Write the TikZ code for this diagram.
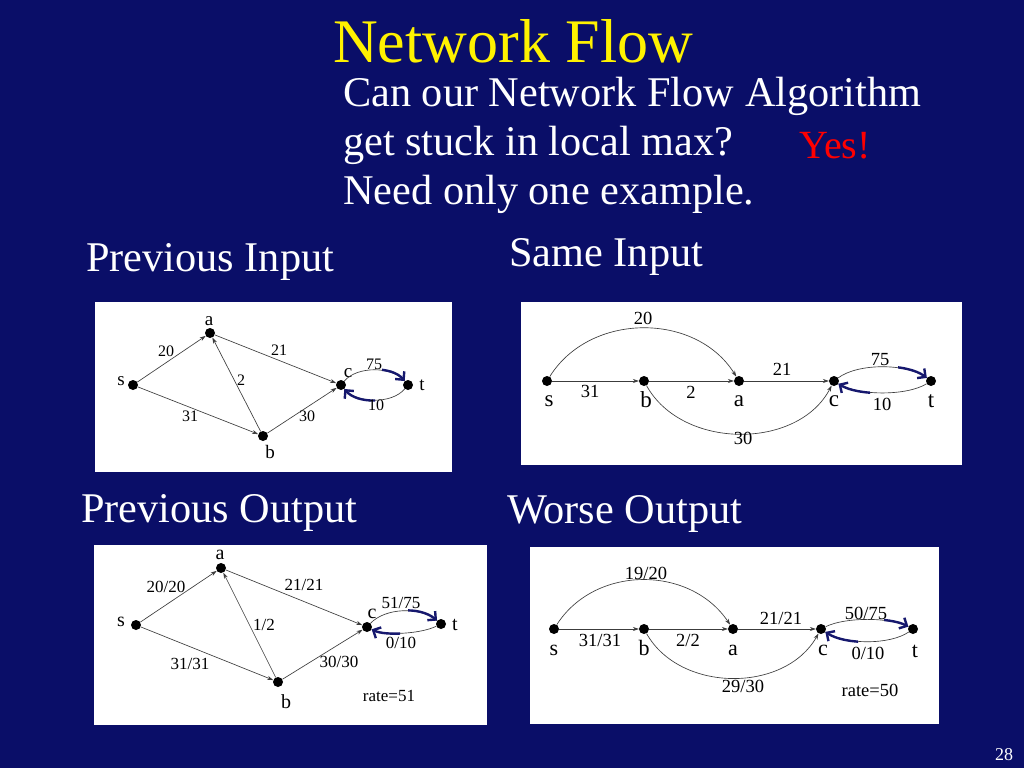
\documentclass[tikz,border=0pt]{standalone}
\usepackage{fontspec}
\setmainfont{Liberation Serif}
\usetikzlibrary{arrows.meta}
\definecolor{slidebg}{RGB}{10,14,104}
\definecolor{flowblue}{RGB}{22,24,110}
\definecolor{edgegray}{RGB}{60,60,60}
\newcommand{\fsz}[1]{\fontsize{#1}{#1}\selectfont}
\begin{document}
\begin{tikzpicture}[x=1pt,y=-1pt,
  panel/.style={fill=white,draw=none},
  dot/.style={circle,fill=black,inner sep=0pt,minimum size=10pt},
  edge/.style={draw=edgegray,line width=0.65pt,-{Stealth[length=6pt,width=4pt]}},
  plain/.style={draw=edgegray,line width=0.65pt},
  flowarr/.style={draw=flowblue,line width=2.4pt,-{Straight Barb[length=6pt,width=12pt,line width=2.4pt]}},
  head/.style={anchor=base west,inner sep=0pt,text=white,font=\fsz{42.3}},
  nlA/.style={inner sep=0pt,font=\fsz{19}},
  elA/.style={inner sep=0pt,font=\fsz{16}},
  nlB/.style={inner sep=0pt,font=\fsz{23}},
  elB/.style={inner sep=0pt,font=\fsz{18.5}}]
\useasboundingbox (0,0) rectangle (1024,768);
\fill[slidebg] (0,0) rectangle (1024,768);

% header texts
\node[anchor=base west,inner sep=0pt,text=yellow,font=\fsz{62}] (title) at (333,63) {Network Flow};
\node[head] (q1) at (343,106) {Can our Network Flow Algorithm};
\node[head] (q2) at (343,155) {get stuck in local max?};
\node[head] (q3) at (343,204) {Need only one example.};
\node[anchor=base west,inner sep=0pt,text=red,font=\fsz{40}] (yes) at (799,158) {Yes!};
\node[head] (h1) at (86,271) {Previous Input};
\node[head] (h2) at (509,266) {Same Input};
\node[head] (h3) at (81,522) {Previous Output};
\node[head] (h4) at (507,523) {Worse Output};
\node[anchor=base west,inner sep=0pt,text=white,font=\fsz{18}] (pg) at (995,760) {28};

% ---------- Panel 1: Previous Input ----------
\fill[panel] (95,302) rectangle (452,472);
\node[dot] (s1) at (133,385) {};
\node[dot] (a1) at (210,333) {};
\node[dot] (b1) at (263,436) {};
\node[dot] (c1) at (341,385) {};
\node[dot] (t1) at (408,385) {};
\node[nlA] (s1l) at (121,381) {s};
\node[nlA] (a1l) at (209,321) {a};
\node[nlA] (b1l) at (270,452) {b};
\node[nlA] (c1l) at (348,373) {c};
\node[nlA] (t1l) at (422,385) {t};
\draw[edge] (s1) -- (a1);
\draw[edge] (a1) -- (c1);
\draw[edge] (b1) -- (a1);
\draw[edge] (s1) -- (b1);
\draw[edge] (b1) -- (c1);
\draw[plain] (c1) .. controls (357,366) and (392,366) .. (t1);
\draw[plain] (t1) .. controls (392,404) and (357,404) .. (c1);
\begin{scope}
  \clip (382,350) rectangle (420,386);
  \draw[flowarr] (c1) .. controls (357,366) and (392,366) .. (t1);
\end{scope}
\begin{scope}
  \clip (330,384) rectangle (375,420);
  \draw[flowarr] (t1) .. controls (392,404) and (357,404) .. (c1);
\end{scope}
\node[elA] (e1a) at (166,351) {20};
\node[elA] (e1b) at (279,350) {21};
\node[elA] (e1c) at (241,380) {2};
\node[elA] (e1d) at (190,416) {31};
\node[elA] (e1e) at (307,416) {30};
\node[elA] (e1f) at (374,364) {75};
\node[elA] (e1g) at (376,405) {10};

% ---------- Panel 2: Same Input ----------
\fill[panel] (521,302) rectangle (962,465);
\node[dot] (s2) at (547,381) {};
\node[dot] (b2) at (644,381) {};
\node[dot] (a2) at (739,381) {};
\node[dot] (c2) at (834,381) {};
\node[dot] (t2) at (931,381) {};
\node[nlB] (s2l) at (549,401) {s};
\node[nlB] (b2l) at (646,400) {b};
\node[nlB] (a2l) at (739,401) {a};
\node[nlB] (c2l) at (834,401) {c};
\node[nlB] (t2l) at (931,401) {t};
\draw[edge] (s2) -- (b2);
\draw[edge] (b2) -- (a2);
\draw[edge] (a2) -- (c2);
\draw[edge] (s2) .. controls (590,312) and (696,312) .. (a2);
\draw[edge] (b2) .. controls (682,450) and (798,450) .. (c2);
\draw[plain] (c2) .. controls (858,363) and (907,363) .. (t2);
\draw[plain] (t2) .. controls (907,396) and (858,396) .. (c2);
\begin{scope}
  \clip (898,350) rectangle (945,382);
  \draw[flowarr] (c2) .. controls (858,363) and (907,363) .. (t2);
\end{scope}
\begin{scope}
  \clip (822,380) rectangle (870,410);
  \draw[flowarr] (t2) .. controls (907,396) and (858,396) .. (c2);
\end{scope}
\node[elB] (e2a) at (643,318) {20};
\node[elB] (e2b) at (590,391) {31};
\node[elB] (e2c) at (691,392) {2};
\node[elB] (e2d) at (782,369) {21};
\node[elB] (e2e) at (743,438) {30};
\node[elB] (e2f) at (880,360) {75};
\node[elB] (e2g) at (882,404) {10};

% ---------- Panel 3: Previous Output ----------
\fill[panel] (94,545) rectangle (487,725);
\node[dot] (s3) at (136,625) {};
\node[dot] (a3) at (221,568) {};
\node[dot] (b3) at (278,682) {};
\node[dot] (c3) at (367,627) {};
\node[dot] (t3) at (441,624) {};
\node[nlA,font=\fsz{20}] (s3l) at (121,622) {s};
\node[nlA,font=\fsz{20}] (a3l) at (220,555) {a};
\node[nlA,font=\fsz{20}] (b3l) at (286,702) {b};
\node[nlA,font=\fsz{20}] (c3l) at (372,614) {c};
\node[nlA,font=\fsz{20}] (t3l) at (455,625) {t};
\draw[edge] (s3) -- (a3);
\draw[edge] (a3) -- (c3);
\draw[edge] (b3) -- (a3);
\draw[edge] (s3) -- (b3);
\draw[edge] (b3) -- (c3);
\draw[plain] (c3) .. controls (385,608) and (420,606) .. (t3);
\draw[plain] (t3) .. controls (420,634) and (385,636) .. (c3);
\begin{scope}
  \clip (408,595) rectangle (455,625);
  \draw[flowarr] (c3) .. controls (385,608) and (420,606) .. (t3);
\end{scope}
\begin{scope}
  \clip (355,626) rectangle (400,650);
  \draw[flowarr] (t3) .. controls (420,634) and (385,636) .. (c3);
\end{scope}
\node[elA,font=\fsz{17}] (e3a) at (166,587) {20/20};
\node[elA,font=\fsz{17}] (e3b) at (304,585) {21/21};
\node[elA,font=\fsz{17}] (e3c) at (264,625) {1/2};
\node[elA,font=\fsz{17}] (e3d) at (190,664) {31/31};
\node[elA,font=\fsz{17}] (e3e) at (339,662) {30/30};
\node[elA,font=\fsz{17}] (e3f) at (401,603) {51/75};
\node[elA,font=\fsz{17}] (e3g) at (401,643) {0/10};
\node[elA,font=\fsz{17}] (r3) at (389,696) {rate=51};

% ---------- Panel 4: Worse Output ----------
\fill[panel] (530,547) rectangle (939,724);
\node[dot] (s4) at (554,629) {};
\node[dot] (b4) at (644,629) {};
\node[dot] (a4) at (733,629) {};
\node[dot] (c4) at (821,629) {};
\node[dot] (t4) at (913,629) {};
\node[nlB,font=\fsz{22}] (s4l) at (554,650) {s};
\node[nlB,font=\fsz{22}] (b4l) at (644,648) {b};
\node[nlB,font=\fsz{22}] (a4l) at (733,650) {a};
\node[nlB,font=\fsz{22}] (c4l) at (823,650) {c};
\node[nlB,font=\fsz{22}] (t4l) at (915,651) {t};
\draw[edge] (s4) -- (b4);
\draw[edge] (b4) -- (a4);
\draw[edge] (a4) -- (c4);
\draw[edge] (s4) .. controls (595,565) and (690,565) .. (a4);
\draw[edge] (b4) .. controls (680,693) and (785,693) .. (c4);
\draw[plain] (c4) .. controls (845,617) and (890,617) .. (t4);
\draw[plain] (t4) .. controls (890,645) and (845,645) .. (c4);
\begin{scope}
  \clip (884,600) rectangle (930,630);
  \draw[flowarr] (c4) .. controls (845,617) and (890,617) .. (t4);
\end{scope}
\begin{scope}
  \clip (810,628) rectangle (858,655);
  \draw[flowarr] (t4) .. controls (890,645) and (845,645) .. (c4);
\end{scope}
\node[elB] (e4a) at (646,573) {19/20};
\node[elB] (e4b) at (600,640) {31/31};
\node[elB] (e4c) at (688,640) {2/2};
\node[elB] (e4d) at (781,618) {21/21};
\node[elB] (e4e) at (743,686) {29/30};
\node[elB] (e4f) at (866,613) {50/75};
\node[elB] (e4g) at (868,653) {0/10};
\node[elB] (r4) at (870,690) {rate=50};
\end{tikzpicture}
\end{document}
